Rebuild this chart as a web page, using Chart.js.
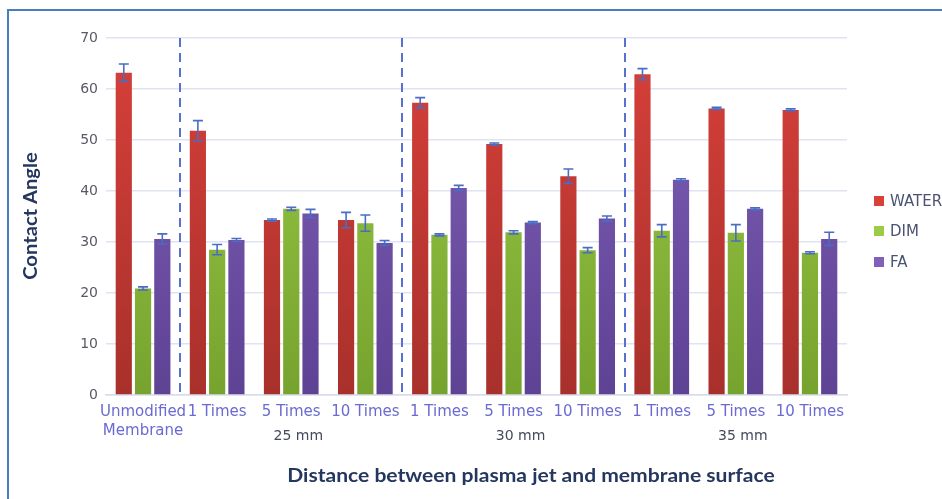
<!DOCTYPE html>
<html><head><meta charset="utf-8">
<script src="https://cdn.jsdelivr.net/npm/chart.js@4/dist/chart.umd.min.js"></script>
<style>
html,body{margin:0;padding:0;background:#fff;}
#wrap{position:relative;width:942px;height:499px;overflow:hidden;}
#frame{position:absolute;left:7px;top:9px;width:960px;height:520px;border:2.5px solid #4a7dc0;box-sizing:border-box;pointer-events:none;}
canvas{position:absolute;left:0;top:0;}
</style></head>
<body><div id="wrap"><canvas id="c" width="942" height="499"></canvas><div id="frame"></div></div>
<script>
const categories = [["Unmodified","Membrane"],"1 Times","5 Times","10 Times","1 Times","5 Times","10 Times","1 Times","5 Times","10 Times"];
const groupLabels = ["25 mm","30 mm","35 mm"];
const groupCenterIndex = [2,5,8];
const separatorAfterIndex = [0,3,6];
const seriesNames = ["WATER","DIM","FA"];
const water = [63.2, 51.8, 34.3, 34.3, 57.3, 49.2, 42.9, 62.9, 56.2, 55.9];
const dim   = [20.9, 28.5, 36.5, 33.7, 31.4, 31.9, 28.4, 32.2, 31.8, 27.9];
const fa    = [30.6, 30.4, 35.6, 29.8, 40.6, 33.8, 34.6, 42.2, 36.5, 30.6];
const waterErr = [1.7, 2.0, 0.2, 1.5, 1.0, 0.2, 1.4, 1.1, 0.2, 0.2];
const dimErr   = [0.3, 1.0, 0.3, 1.6, 0.2, 0.3, 0.5, 1.2, 1.6, 0.2];
const faErr    = [1.0, 0.3, 0.8, 0.5, 0.5, 0.2, 0.5, 0.2, 0.2, 1.3];
const yTicks = [0,10,20,30,40,50,60,70];

const colors = [["#d8403a","#a8302b"],["#9ccb48","#76a32e"],["#8060b8","#5e4294"]];
const errs = [waterErr, dimErr, faErr];

function grad(idx){
  return function(ctx){
    const ch = ctx.chart; const a = ch.chartArea;
    if(!a) return colors[idx][0];
    const g = ch.ctx.createLinearGradient(0,a.top,0,a.bottom);
    g.addColorStop(0,colors[idx][0]); g.addColorStop(1,colors[idx][1]);
    return g;
  };
}

const extras = {
  id:'extras',
  beforeDatasetsDraw(chart){
    const c = chart.ctx, a = chart.chartArea, x = chart.scales.x;
    c.save();
    c.strokeStyle = '#5a6fd2'; c.lineWidth = 2; c.setLineDash([9,6]);
    separatorAfterIndex.forEach(i=>{
      const px = Math.round((x.getPixelForValue(i)+x.getPixelForValue(i+1))/2);
      c.beginPath(); c.moveTo(px, a.top); c.lineTo(px, a.bottom); c.stroke();
    });
    c.restore();
  },
  afterDatasetsDraw(chart){
    const c = chart.ctx, y = chart.scales.y, x = chart.scales.x, a = chart.chartArea;
    c.save();
    c.strokeStyle = '#4a6cc4'; c.lineWidth = 1.6;
    chart.data.datasets.forEach((ds,di)=>{
      const meta = chart.getDatasetMeta(di);
      meta.data.forEach((el,j)=>{
        const v = ds.data[j], e = errs[di][j];
        const t = y.getPixelForValue(v+e), b = y.getPixelForValue(v-e);
        c.beginPath();
        c.moveTo(el.x, t); c.lineTo(el.x, b);
        c.moveTo(el.x-5, t); c.lineTo(el.x+5, t);
        c.moveTo(el.x-5, b); c.lineTo(el.x+5, b);
        c.stroke();
      });
    });
    // group labels
    c.fillStyle = '#454a5c'; c.font = '14px "DejaVu Sans"'; c.textAlign='center'; c.textBaseline='middle';
    groupLabels.forEach((g,i)=>{ c.fillText(g, x.getPixelForValue(groupCenterIndex[i])+7, 436); });
    // axis titles
    c.fillStyle = '#24375e'; c.font = 'bold 18px Lato';
    c.save(); c.translate(531, 476); c.scale(1.17,1);
    c.fillText('Distance between plasma jet and membrane surface', 0, 0); c.restore();
    c.save(); c.translate(31, 216); c.rotate(-Math.PI/2); c.scale(1.12,1);
    c.fillText('Contact Angle', 0, 0); c.restore();
    // legend
    c.textAlign='left'; c.font = '15px "DejaVu Sans"';
    const ly = [201, 231, 262];
    chart.data.datasets.forEach((ds,di)=>{
      c.fillStyle = colors[di][0]; c.fillRect(874, ly[di]-5, 10, 10);
      c.fillStyle = '#4a5373'; c.fillText(ds.label, 890, ly[di]+1);
    });
    c.restore();
  }
};

new Chart(document.getElementById('c'), {
  type:'bar',
  data:{ labels: categories, datasets:[
    {label:seriesNames[0], data:water, backgroundColor:grad(0)},
    {label:seriesNames[1], data:dim, backgroundColor:grad(1)},
    {label:seriesNames[2], data:fa, backgroundColor:grad(2)}
  ]},
  options:{
    responsive:false, animation:false, devicePixelRatio:1,
    layout:{padding:{left:56, top:38, right:95, bottom:0}},
    datasets:{bar:{categoryPercentage:0.78, barPercentage:0.84}},
    plugins:{legend:{display:false}, tooltip:{enabled:false}, title:{display:false}},
    scales:{
      x:{
        grid:{display:false}, border:{display:true, color:'#d8dce8', width:1.5},
        ticks:{color:'#6a6ad2', font:{family:'DejaVu Sans', size:15, lineHeight:1.25}, padding:0, maxRotation:0, autoSkip:false},
        afterFit(s){ s.height = 104; }
      },
      y:{
        min:0, max:70,
        afterBuildTicks(s){ s.ticks = yTicks.map(v=>({value:v})); },
        grid:{color:'#dfe3f4', lineWidth:1.5, drawTicks:false},
        border:{display:false},
        ticks:{color:'#5a5a66', font:{family:'DejaVu Sans', size:14}, padding:8},
        afterFit(s){ s.width = 50; }
      }
    }
  },
  plugins:[extras]
});
</script></body></html>
